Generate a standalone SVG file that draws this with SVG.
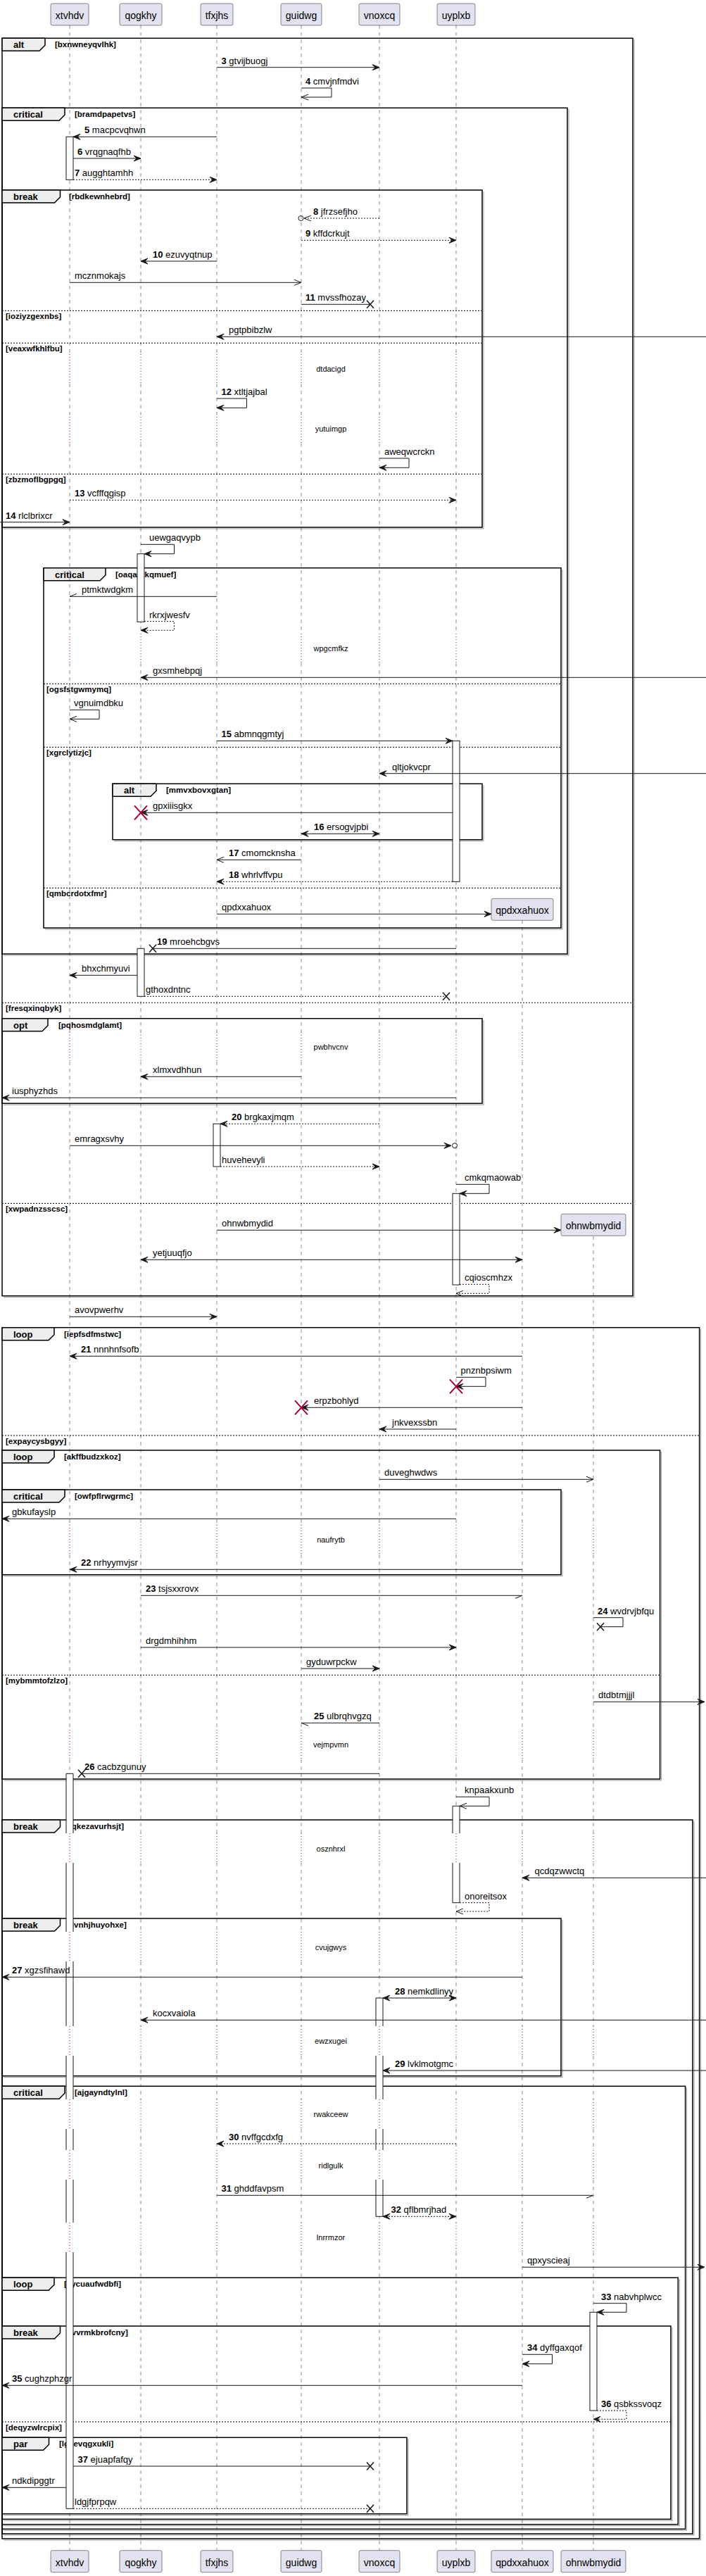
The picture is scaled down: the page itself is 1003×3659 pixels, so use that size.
<svg xmlns="http://www.w3.org/2000/svg" width="1003" height="3659" viewBox="0 0 1003 3659">
<style>
.pb{fill:#E2E2F0;stroke:#181818;stroke-width:0.5}
.pt{font-family:"Liberation Sans",Arial,sans-serif;font-size:14px;fill:#000;text-anchor:middle}
.ll{fill:none;stroke:#181818;stroke-width:0.5;stroke-dasharray:5,5}
.dl{fill:none;stroke:#A80036;stroke-width:1;stroke-dasharray:1,3}
.fr{fill:none;stroke:#000;stroke-width:1.5}
.fs{fill:none;stroke:#999;stroke-width:1}
.tab{fill:#EEEEEE;stroke:#000;stroke-width:1.5}
.tt{font-family:"Liberation Sans",Arial,sans-serif;font-size:13px;font-weight:bold;fill:#000}
.gl{font-family:"Liberation Sans",Arial,sans-serif;font-size:11.5px;font-weight:bold;fill:#000}
.sep{fill:none;stroke:#000;stroke-width:1;stroke-dasharray:2,2}
.ac{fill:#fff;stroke:#181818;stroke-width:1}
.acf{fill:#fff;stroke:none}
.acl{fill:none;stroke:#181818;stroke-width:1}
.m{fill:none;stroke:#181818;stroke-width:1}
.d{stroke-dasharray:2,2}
.ml{font-family:"Liberation Sans",Arial,sans-serif;font-size:13px;fill:#000}
.b{font-weight:bold}
.dt{font-family:"Liberation Sans",Arial,sans-serif;font-size:11px;fill:#000;text-anchor:middle}
.lx{fill:none;stroke:#181818;stroke-width:1.5}
.rx{fill:none;stroke:#A80036;stroke-width:2}
.ci{fill:none;stroke:#181818;stroke-width:1}
</style>
<defs>
<marker id="fa" markerUnits="userSpaceOnUse" markerWidth="12" markerHeight="10" refX="10" refY="4" orient="auto-start-reverse" overflow="visible"><path d="M0,0 L10,4 L0,8 L4,4 Z" fill="#181818" stroke="#181818" stroke-width="1"/></marker>
<marker id="oa" markerUnits="userSpaceOnUse" markerWidth="12" markerHeight="10" refX="10" refY="4" orient="auto-start-reverse" overflow="visible"><path d="M0,0 L10,4 L0,8" fill="none" stroke="#181818" stroke-width="1"/></marker>
<path id="lld" class="ll" d="M0,36V503M0,545V588M0,630V900M0,942V1466M0,1508V2166M0,2208V2457M0,2499V2604M0,2646V2744M0,2786V2878M0,2920V2982M0,3024V3054M0,3096V3157M0,3199V3622"/>
<path id="llt" class="dl" d="M0,503V545M0,588V630M0,900V942M0,1466V1508M0,2166V2208M0,2457V2499M0,2604V2646M0,2744V2786M0,2878V2920M0,2982V3024M0,3054V3096M0,3157V3199"/>
</defs>

<g id="frames">
<g id="f-alt1">
<path class="fs" d="M901,56.3V1842.7H5"/>
<rect class="fr" x="3" y="54.3" width="896" height="1786.4"/>
<path class="tab" d="M3,54.3H64V64.3L56,72.3H3Z"/>
<text class="tt" x="19" y="68.3">alt</text>
<text class="gl" x="78" y="67.3">[bxnwneyqvlhk]</text>
<line class="sep" x1="3" y1="1424.3" x2="899" y2="1424.3"/>
<text class="gl" x="8" y="1436.3">[fresqxinqbyk]</text>
<line class="sep" x1="3" y1="1709.3" x2="899" y2="1709.3"/>
<text class="gl" x="8" y="1721.3">[xwpadnzsscsc]</text>
</g>
<g id="f-crit1">
<path class="fs" d="M808,155.3V1357H5"/>
<rect class="fr" x="3" y="153.3" width="803" height="1201.7"/>
<path class="tab" d="M3,153.3H92V163.3L84,171.3H3Z"/>
<text class="tt" x="19" y="167.3">critical</text>
<text class="gl" x="106" y="166.3">[bramdpapetvs]</text>
</g>
<g id="f-break1">
<path class="fs" d="M687,272V751H5"/>
<rect class="fr" x="3" y="270" width="682" height="479"/>
<path class="tab" d="M3,270H85.5V280L77.5,288H3Z"/>
<text class="tt" x="19" y="284">break</text>
<text class="gl" x="98" y="283">[rbdkewnhebrd]</text>
<line class="sep" x1="3" y1="441.3" x2="685" y2="441.3"/>
<text class="gl" x="8" y="453.3">[ioziyzgexnbs]</text>
<line class="sep" x1="3" y1="487.3" x2="685" y2="487.3"/>
<text class="gl" x="8" y="499.3">[veaxwfkhlfbu]</text>
<line class="sep" x1="3" y1="673.3" x2="685" y2="673.3"/>
<text class="gl" x="8" y="685.3">[zbzmoflbgpgq]</text>
</g>
<g id="f-crit2">
<path class="fs" d="M799,808.7V1320H64"/>
<rect class="fr" x="62" y="806.7" width="735" height="511.3"/>
<path class="tab" d="M62,806.7H150V816.7L142,824.7H62Z"/>
<text class="tt" x="78" y="820.7">critical</text>
<text class="gl" x="164" y="819.7">[oaqautkqmuef]</text>
<line class="sep" x1="62" y1="971.3" x2="797" y2="971.3"/>
<text class="gl" x="66" y="983.3">[ogsfstgwmymq]</text>
<line class="sep" x1="62" y1="1061.3" x2="797" y2="1061.3"/>
<text class="gl" x="66" y="1073.3">[xgrclytizjc]</text>
<line class="sep" x1="62" y1="1261.3" x2="797" y2="1261.3"/>
<text class="gl" x="66" y="1273.3">[qmbcrdotxfmr]</text>
</g>
<g id="f-alt2">
<path class="fs" d="M687,1115.3V1194.7H162"/>
<rect class="fr" x="160" y="1113.3" width="525" height="79.4"/>
<path class="tab" d="M160,1113.3H222V1123.3L214,1131.3H160Z"/>
<text class="tt" x="176" y="1127.3">alt</text>
<text class="gl" x="236" y="1126.3">[mmvxbovxgtan]</text>
</g>
<g id="f-opt">
<path class="fs" d="M687,1448.7V1569.3H5"/>
<rect class="fr" x="3" y="1446.7" width="682" height="120.6"/>
<path class="tab" d="M3,1446.7H68V1456.7L60,1464.7H3Z"/>
<text class="tt" x="19" y="1460.7">opt</text>
<text class="gl" x="83" y="1459.7">[pqhosmdglamt]</text>
</g>
<g id="f-loop1">
<path class="fs" d="M995.6,1887.7V3608H5"/>
<rect class="fr" x="3" y="1885.7" width="990.6" height="1720.3"/>
<path class="tab" d="M3,1885.7H77V1895.7L69,1903.7H3Z"/>
<text class="tt" x="19" y="1899.7">loop</text>
<text class="gl" x="91" y="1898.7">[iepfsdfmstwc]</text>
<line class="sep" x1="3" y1="2039" x2="993.6" y2="2039"/>
<text class="gl" x="8" y="2051">[expaycysbgyy]</text>
</g>
<g id="f-loop2">
<path class="fs" d="M939.6,2062V2529H5"/>
<rect class="fr" x="3" y="2060" width="934.6" height="467"/>
<path class="tab" d="M3,2060H77V2070L69,2078H3Z"/>
<text class="tt" x="19" y="2074">loop</text>
<text class="gl" x="91" y="2073">[akffbudzxkoz]</text>
<line class="sep" x1="3" y1="2379.3" x2="937.6" y2="2379.3"/>
<text class="gl" x="8" y="2391.3">[mybmmtofzlzo]</text>
</g>
<g id="f-crit3">
<path class="fs" d="M799,2118V2238.7H5"/>
<rect class="fr" x="3" y="2116" width="794" height="120.7"/>
<path class="tab" d="M3,2116H92V2126L84,2134H3Z"/>
<text class="tt" x="19" y="2130">critical</text>
<text class="gl" x="106" y="2129">[owfpflrwgrmc]</text>
</g>
<g id="f-break2">
<path class="fs" d="M986,2587V3601H5"/>
<rect class="fr" x="3" y="2585" width="981" height="1014"/>
<path class="tab" d="M3,2585H85.5V2595L77.5,2603H3Z"/>
<text class="tt" x="19" y="2599">break</text>
<text class="gl" x="98" y="2598">[qkezavurhsjt]</text>
</g>
<g id="f-break3">
<path class="fs" d="M799,2727V2950.7H5"/>
<rect class="fr" x="3" y="2725" width="794" height="223.7"/>
<path class="tab" d="M3,2725H85.5V2735L77.5,2743H3Z"/>
<text class="tt" x="19" y="2739">break</text>
<text class="gl" x="98" y="2738">[jvnhjhuyohxe]</text>
</g>
<g id="f-crit4">
<path class="fs" d="M975.6,2965.3V3594.3H5"/>
<rect class="fr" x="3" y="2963.3" width="970.6" height="629"/>
<path class="tab" d="M3,2963.3H92V2973.3L84,2981.3H3Z"/>
<text class="tt" x="19" y="2977.3">critical</text>
<text class="gl" x="106" y="2976.3">[ajgayndtylnl]</text>
</g>
<g id="f-loop3">
<path class="fs" d="M965.3,3237.3V3587.7H5"/>
<rect class="fr" x="3" y="3235.3" width="960.3" height="350.4"/>
<path class="tab" d="M3,3235.3H77V3245.3L69,3253.3H3Z"/>
<text class="tt" x="19" y="3249.3">loop</text>
<text class="gl" x="91" y="3248.3">[eycuaufwdbfi]</text>
</g>
<g id="f-break4">
<path class="fs" d="M955,3306V3580.3H5"/>
<rect class="fr" x="3" y="3304" width="950" height="274.3"/>
<path class="tab" d="M3,3304H85.5V3314L77.5,3322H3Z"/>
<text class="tt" x="19" y="3318">break</text>
<text class="gl" x="98" y="3317">[vvrmkbrofcny]</text>
<line class="sep" x1="3" y1="3440" x2="953" y2="3440"/>
<text class="gl" x="8" y="3452">[deqyzwlrcpix]</text>
</g>
<g id="f-par">
<path class="fs" d="M580,3464.3V3572.7H5"/>
<rect class="fr" x="3" y="3462.3" width="575" height="108.4"/>
<path class="tab" d="M3,3462.3H69.5V3472.3L61.5,3480.3H3Z"/>
<text class="tt" x="19" y="3476.3">par</text>
<text class="gl" x="84" y="3475.3">[lgaevqgxukli]</text>
</g>
</g>

<g id="lifelines">
<use href="#lld" x="99"/><use href="#llt" x="99"/>
<use href="#lld" x="200"/><use href="#llt" x="200"/>
<use href="#lld" x="308"/><use href="#llt" x="308"/>
<use href="#lld" x="428"/><use href="#llt" x="428"/>
<use href="#lld" x="539"/><use href="#llt" x="539"/>
<use href="#lld" x="648"/><use href="#llt" x="648"/>
<path class="ll" d="M742,1307V1466M742,1508V2166M742,2208V2457M742,2499V2604M742,2646V2744M742,2786V2878M742,2920V2982M742,3024V3054M742,3096V3157M742,3199V3622"/>
<path class="dl" d="M742,1466V1508M742,2166V2208M742,2457V2499M742,2604V2646M742,2744V2786M742,2878V2920M742,2982V3024M742,3054V3096M742,3157V3199"/>
<path class="ll" d="M843,1756V2166M843,2208V2457M843,2499V2604M843,2646V2744M843,2786V2878M843,2920V2982M843,3024V3054M843,3096V3157M843,3199V3622"/>
<path class="dl" d="M843,2166V2208M843,2457V2499M843,2604V2646M843,2744V2786M843,2878V2920M843,2982V3024M843,3054V3096M843,3157V3199"/>
</g>

<g id="activations">
<rect class="ac" x="94" y="194.3" width="10" height="61"/>
<rect class="ac" x="195" y="786.7" width="10" height="96.6"/>
<rect class="ac" x="643" y="1052.3" width="10" height="200"/>
<rect class="ac" x="195" y="1347.3" width="10" height="68"/>
<rect class="ac" x="303" y="1596.3" width="10" height="60.7"/>
<rect class="ac" x="643" y="1695.3" width="10" height="129.7"/>
<g id="act-xtvhdv-2">
<rect class="acf" x="94" y="2519.3" width="10" height="84.7"/><rect class="acf" x="94" y="2646" width="10" height="98"/><rect class="acf" x="94" y="2786" width="10" height="92"/><rect class="acf" x="94" y="2920" width="10" height="62"/><rect class="acf" x="94" y="3024" width="10" height="30"/><rect class="acf" x="94" y="3096" width="10" height="61"/><rect class="acf" x="94" y="3199" width="10" height="364.3"/>
<path class="acl" d="M94,2519.3H104M94,3563.3H104M94,2519.3V2604M104,2519.3V2604M94,2646V2744M104,2646V2744M94,2786V2878M104,2786V2878M94,2920V2982M104,2920V2982M94,3024V3054M104,3024V3054M94,3096V3157M104,3096V3157M94,3199V3563.3M104,3199V3563.3"/>
</g>
<g id="act-uyplxb-3">
<rect class="acf" x="643" y="2565.3" width="10" height="38.7"/><rect class="acf" x="643" y="2646" width="10" height="56.7"/>
<path class="acl" d="M643,2565.3H653M643,2702.7H653M643,2565.3V2604M653,2565.3V2604M643,2646V2702.7M653,2646V2702.7"/>
</g>
<g id="act-vnoxcq">
<rect class="acf" x="534" y="2838" width="10" height="40"/><rect class="acf" x="534" y="2920" width="10" height="62"/><rect class="acf" x="534" y="3024" width="10" height="30"/><rect class="acf" x="534" y="3096" width="10" height="52.3"/>
<path class="acl" d="M534,2838H544M534,3148.3H544M534,2838V2878M544,2838V2878M534,2920V2982M544,2920V2982M534,3024V3054M544,3024V3054M534,3096V3148.3M544,3096V3148.3"/>
</g>
<rect class="ac" x="838" y="3284.3" width="10" height="139.7"/>
</g>

<g id="participants">
<g id="p-xtvhdv"><rect class="pb" x="72" y="5" width="54" height="31" rx="2.5"/><text class="pt" x="99" y="27">xtvhdv</text><rect class="pb" x="72" y="3622.7" width="54" height="31" rx="2.5"/><text class="pt" x="99" y="3644.7">xtvhdv</text></g>
<g id="p-qogkhy"><rect class="pb" x="170" y="5" width="60" height="31" rx="2.5"/><text class="pt" x="200" y="27">qogkhy</text><rect class="pb" x="170" y="3622.7" width="60" height="31" rx="2.5"/><text class="pt" x="200" y="3644.7">qogkhy</text></g>
<g id="p-tfxjhs"><rect class="pb" x="285" y="5" width="46" height="31" rx="2.5"/><text class="pt" x="308" y="27">tfxjhs</text><rect class="pb" x="285" y="3622.7" width="46" height="31" rx="2.5"/><text class="pt" x="308" y="3644.7">tfxjhs</text></g>
<g id="p-guidwg"><rect class="pb" x="399" y="5" width="58" height="31" rx="2.5"/><text class="pt" x="428" y="27">guidwg</text><rect class="pb" x="399" y="3622.7" width="58" height="31" rx="2.5"/><text class="pt" x="428" y="3644.7">guidwg</text></g>
<g id="p-vnoxcq"><rect class="pb" x="510" y="5" width="58" height="31" rx="2.5"/><text class="pt" x="539" y="27">vnoxcq</text><rect class="pb" x="510" y="3622.7" width="58" height="31" rx="2.5"/><text class="pt" x="539" y="3644.7">vnoxcq</text></g>
<g id="p-uyplxb"><rect class="pb" x="621" y="5" width="54" height="31" rx="2.5"/><text class="pt" x="648" y="27">uyplxb</text><rect class="pb" x="621" y="3622.7" width="54" height="31" rx="2.5"/><text class="pt" x="648" y="3644.7">uyplxb</text></g>
<g id="p-qpdxxahuox"><rect class="pb" x="698" y="1276.3" width="88" height="31" rx="2.5"/><text class="pt" x="742" y="1298.3">qpdxxahuox</text><rect class="pb" x="698" y="3622.7" width="88" height="31" rx="2.5"/><text class="pt" x="742" y="3644.7">qpdxxahuox</text></g>
<g id="p-ohnwbmydid"><rect class="pb" x="797" y="1724.3" width="92" height="31" rx="2.5"/><text class="pt" x="843" y="1746.3">ohnwbmydid</text><rect class="pb" x="797" y="3622.7" width="92" height="31" rx="2.5"/><text class="pt" x="843" y="3644.7">ohnwbmydid</text></g>
</g>

<g id="delays">
<text class="dt" x="470" y="528">dtdacigd</text>
<text class="dt" x="470" y="613">yutuimgp</text>
<text class="dt" x="470" y="925">wpgcmfkz</text>
<text class="dt" x="470" y="1491">pwbhvcnv</text>
<text class="dt" x="470" y="2191">naufrytb</text>
<text class="dt" x="470" y="2482">vejmpvmn</text>
<text class="dt" x="470" y="2630">osznhrxl</text>
<text class="dt" x="470" y="2770">cvujgwys</text>
<text class="dt" x="470" y="2903">ewzxugei</text>
<text class="dt" x="470" y="3007">rwakceew</text>
<text class="dt" x="470" y="3080">ridlgulk</text>
<text class="dt" x="470" y="3182">lnrrmzor</text>
</g>

<g id="connectors">
<path class="m" d="M308,95.7H539" marker-end="url(#fa)"/><text class="ml" x="314.5" y="90.7"><tspan class="b">3</tspan> gtvijbuogj</text>
<path class="m" d="M428,125H471V138H428" marker-end="url(#oa)"/><text class="ml" x="434" y="120"><tspan class="b">4</tspan> cmvjnfmdvi</text>
<path class="m" d="M308,194.3H104" marker-end="url(#fa)"/><text class="ml" x="120" y="189.3"><tspan class="b">5</tspan> macpcvqhwn</text>
<path class="m" d="M104,225H200" marker-end="url(#fa)"/><text class="ml" x="110" y="220"><tspan class="b">6</tspan> vrqgnaqfhb</text>
<path class="m d" d="M104,255.3H308" marker-end="url(#fa)"/><text class="ml" x="106" y="250.3"><tspan class="b">7</tspan> augghtamhh</text>
<path class="m d" d="M539,310H432" marker-end="url(#oa)"/><circle class="ci" cx="427.5" cy="310" r="3.5"/><text class="ml" x="445" y="305"><tspan class="b">8</tspan> jfrzsefjho</text>
<path class="m d" d="M428,341.3H648" marker-end="url(#fa)"/><text class="ml" x="434" y="336.3"><tspan class="b">9</tspan> kffdcrkujt</text>
<path class="m" d="M308,371H200" marker-end="url(#fa)"/><text class="ml" x="217" y="366"><tspan class="b">10</tspan> ezuvyqtnup</text>
<path class="m" d="M99,401.3H428" marker-end="url(#oa)"/><text class="ml" x="106" y="396.3">mcznmokajs</text>
<path class="m" d="M428,432.3H526"/><path class="lx" d="M521,426.8L531,437.8M531,426.8L521,437.8"/><text class="ml" x="434" y="427.3"><tspan class="b">11</tspan> mvssfhozay</text>
<path class="m" d="M1003,478.3H308" marker-end="url(#fa)"/><text class="ml" x="325" y="473.3">pgtpbibzlw</text>
<path class="m" d="M308,566H350.5V579.3H308" marker-end="url(#fa)"/><text class="ml" x="314.5" y="561"><tspan class="b">12</tspan> xtltjajbal</text>
<path class="m" d="M539,651H581V664.3H539" marker-end="url(#fa)"/><text class="ml" x="546" y="646">aweqwcrckn</text>
<path class="m d" d="M99,710.3H648" marker-end="url(#fa)"/><text class="ml" x="106" y="705.3"><tspan class="b">13</tspan> vcfffqgisp</text>
<path class="m" d="M0,741.7H99" marker-end="url(#fa)"/><text class="ml" x="8" y="736.7"><tspan class="b">14</tspan> rlclbrixcr</text>
<path class="m" d="M200,773.3H247.5V786.7H205" marker-end="url(#fa)"/><text class="ml" x="212" y="768.3">uewgaqvypb</text>
<path class="m" d="M308,847.3H99M99,847.3L109,843.3"/><text class="ml" x="116" y="842.3">ptmktwdgkm</text>
<path class="m d" d="M205,882.7H247.5V895.3H200" marker-end="url(#fa)"/><text class="ml" x="212" y="877.7">rkrxjwesfv</text>
<path class="m" d="M1003,962.3H200" marker-end="url(#fa)"/><text class="ml" x="217" y="957.3">gxsmhebpqj</text>
<path class="m" d="M99,1008.3H141V1021.3H99" marker-end="url(#oa)"/><text class="ml" x="105" y="1003.3">vgnuimdbku</text>
<path class="m" d="M308,1052.3H643" marker-end="url(#fa)"/><text class="ml" x="314.5" y="1047.3"><tspan class="b">15</tspan> abmnqgmtyj</text>
<path class="m" d="M1003,1098.7H539" marker-end="url(#fa)"/><text class="ml" x="557" y="1093.7">qltjokvcpr</text>
<path class="m" d="M643,1154.3H200" marker-end="url(#fa)"/><path class="rx" d="M191,1144.3L209,1164.3M209,1144.3L191,1164.3"/><text class="ml" x="217" y="1149.3">gpxiiisgkx</text>
<path class="m" d="M428,1184.3H539" marker-start="url(#fa)" marker-end="url(#fa)"/><text class="ml" x="446" y="1179.3"><tspan class="b">16</tspan> ersogvjpbi</text>
<path class="m" d="M428,1221.3H308" marker-end="url(#oa)"/><text class="ml" x="325" y="1216.3"><tspan class="b">17</tspan> cmomcknsha</text>
<path class="m d" d="M643,1252.3H308" marker-end="url(#fa)"/><text class="ml" x="325" y="1247.3"><tspan class="b">18</tspan> whrlvffvpu</text>
<path class="m" d="M308,1298.3H698" marker-end="url(#fa)"/><text class="ml" x="315" y="1293.3">qpdxxahuox</text>
<path class="m" d="M648,1347.3H217"/><path class="lx" d="M212,1341.8L222,1352.8M222,1341.8L212,1352.8"/><text class="ml" x="223" y="1342.3"><tspan class="b">19</tspan> mroehcbgvs</text>
<path class="m" d="M195,1385.3H99" marker-end="url(#fa)"/><text class="ml" x="116" y="1380.3">bhxchmyuvi</text>
<path class="m d" d="M205,1415.3H634"/><path class="lx" d="M629,1409.8L639,1420.8M639,1409.8L629,1420.8"/><text class="ml" x="207" y="1410.3">gthoxdntnc</text>
<path class="m" d="M428,1529.3H200" marker-end="url(#fa)"/><text class="ml" x="217" y="1524.3">xlmxvdhhun</text>
<path class="m" d="M648,1559.3H3" marker-end="url(#fa)"/><text class="ml" x="17" y="1554.3">iusphyzhds</text>
<path class="m d" d="M539,1596.3H313" marker-end="url(#fa)"/><text class="ml" x="329" y="1591.3"><tspan class="b">20</tspan> brgkaxjmqm</text>
<path class="m" d="M99,1627.3H641" marker-end="url(#fa)"/><circle class="ci" cx="646" cy="1627.3" r="3.5"/><text class="ml" x="106" y="1622.3">emragxsvhy</text>
<path class="m d" d="M313,1657H539" marker-end="url(#fa)"/><text class="ml" x="315" y="1652">huvehevyli</text>
<path class="m" d="M648,1682.3H695V1695.3H653" marker-end="url(#fa)"/><text class="ml" x="660" y="1677.3">cmkqmaowab</text>
<path class="m" d="M308,1747.3H797" marker-end="url(#fa)"/><text class="ml" x="315" y="1742.3">ohnwbmydid</text>
<path class="m" d="M200,1789.3H742" marker-start="url(#fa)" marker-end="url(#fa)"/><text class="ml" x="217" y="1784.3">yetjuuqfjo</text>
<path class="m d" d="M653,1824.3H695V1837.3H648" marker-end="url(#oa)"/><text class="ml" x="660" y="1819.3">cqioscmhzx</text>
<path class="m" d="M99,1870.3H308" marker-end="url(#fa)"/><text class="ml" x="106" y="1865.3">avovpwerhv</text>
<path class="m" d="M742,1926.3H99" marker-end="url(#fa)"/><text class="ml" x="115" y="1921.3"><tspan class="b">21</tspan> nnnhnfsofb</text>
<path class="m" d="M648,1956.3H690V1969.3H648" marker-end="url(#fa)"/><path class="rx" d="M639,1959.3L657,1979.3M657,1959.3L639,1979.3"/><text class="ml" x="654.5" y="1951.3">pnznbpsiwm</text>
<path class="m" d="M742,1999.3H428" marker-end="url(#fa)"/><path class="rx" d="M419,1989.3L437,2009.3M437,1989.3L419,2009.3"/><text class="ml" x="446" y="1994.3">erpzbohlyd</text>
<path class="m" d="M648,2030H539" marker-end="url(#fa)"/><text class="ml" x="557" y="2025">jnkvexssbn</text>
<path class="m" d="M539,2101.3H843" marker-end="url(#oa)"/><text class="ml" x="546" y="2096.3">duveghwdws</text>
<path class="m" d="M648,2157.3H3" marker-end="url(#fa)"/><text class="ml" x="17" y="2152.3">gbkufayslp</text>
<path class="m" d="M742,2229.3H99" marker-end="url(#fa)"/><text class="ml" x="115" y="2224.3"><tspan class="b">22</tspan> nrhyymvjsr</text>
<path class="m" d="M200,2266.3H742M742,2266.3L732,2270.3"/><text class="ml" x="207" y="2261.3"><tspan class="b">23</tspan> tsjsxxrovx</text>
<path class="m" d="M843,2297.7H885V2310.7H853"/><path class="lx" d="M848,2305.2L858,2316.2M858,2305.2L848,2316.2"/><text class="ml" x="849" y="2292.7"><tspan class="b">24</tspan> wvdrvjbfqu</text>
<path class="m" d="M200,2340H648" marker-end="url(#fa)"/><text class="ml" x="207" y="2335">drgdmhihhm</text>
<path class="m" d="M428,2370H539" marker-end="url(#fa)"/><text class="ml" x="435" y="2365">gyduwrpckw</text>
<path class="m" d="M843,2417.3H1001" marker-end="url(#fa)"/><text class="ml" x="850" y="2412.3">dtdbtmjjjl</text>
<path class="m" d="M539,2447.3H428M428,2447.3L438,2451.3"/><text class="ml" x="446" y="2442.3"><tspan class="b">25</tspan> ulbrqhvgzq</text>
<path class="m" d="M539,2519.3H116"/><path class="lx" d="M111,2513.8L121,2524.8M121,2513.8L111,2524.8"/><text class="ml" x="120" y="2514.3"><tspan class="b">26</tspan> cacbzgunuy</text>
<path class="m" d="M648,2552.3H695V2565.3H653" marker-end="url(#oa)"/><text class="ml" x="660" y="2547.3">knpaakxunb</text>
<path class="m" d="M1003,2667.3H742" marker-end="url(#fa)"/><text class="ml" x="759.5" y="2662.3">qcdqzwwctq</text>
<path class="m d" d="M653,2702.7H695V2715H648" marker-end="url(#oa)"/><text class="ml" x="660" y="2697.7">onoreitsox</text>
<path class="m" d="M742,2808.3H3" marker-end="url(#fa)"/><text class="ml" x="17" y="2803.3"><tspan class="b">27</tspan> xgzsfihawd</text>
<path class="m" d="M544,2838H648" marker-start="url(#fa)" marker-end="url(#fa)"/><text class="ml" x="561" y="2833"><tspan class="b">28</tspan> nemkdlinyy</text>
<path class="m" d="M1003,2869.3H200" marker-end="url(#fa)"/><text class="ml" x="217" y="2864.3">kocxvaiola</text>
<path class="m" d="M1003,2941H544" marker-end="url(#fa)"/><text class="ml" x="561" y="2936"><tspan class="b">29</tspan> lvklmotgmc</text>
<path class="m d" d="M648,3045H308" marker-end="url(#fa)"/><text class="ml" x="325" y="3040"><tspan class="b">30</tspan> nvffgcdxfg</text>
<path class="m" d="M308,3118.3H843M843,3118.3L833,3122.3"/><text class="ml" x="314.5" y="3113.3"><tspan class="b">31</tspan> ghddfavpsm</text>
<path class="m d" d="M544,3148.3H648" marker-start="url(#fa)" marker-end="url(#fa)"/><text class="ml" x="555.5" y="3143.3"><tspan class="b">32</tspan> qflbmrjhad</text>
<path class="m" d="M742,3220.3H1001" marker-end="url(#fa)"/><text class="ml" x="749" y="3215.3">qpxyscieaj</text>
<path class="m" d="M843,3271.7H890V3284.3H848" marker-end="url(#fa)"/><text class="ml" x="854" y="3266.7"><tspan class="b">33</tspan> nabvhplwcc</text>
<path class="m" d="M742,3344.3H784.5V3357.7H742" marker-end="url(#fa)"/><text class="ml" x="749" y="3339.3"><tspan class="b">34</tspan> dyffgaxqof</text>
<path class="m" d="M742,3388.3H3" marker-end="url(#fa)"/><text class="ml" x="17" y="3383.3"><tspan class="b">35</tspan> cughzphzgr</text>
<path class="m d" d="M848,3424H890V3436.3H843" marker-end="url(#fa)"/><text class="ml" x="854" y="3419"><tspan class="b">36</tspan> qsbkssvoqz</text>
<path class="m" d="M104,3503H526"/><path class="lx" d="M521,3497.5L531,3508.5M531,3497.5L521,3508.5"/><text class="ml" x="110.5" y="3498"><tspan class="b">37</tspan> ejuapfafqy</text>
<path class="m" d="M94,3533.3H3" marker-end="url(#fa)"/><text class="ml" x="17" y="3528.3">ndkdipggtr</text>
<path class="m d" d="M104,3563.3H526"/><path class="lx" d="M521,3557.8L531,3568.8M531,3557.8L521,3568.8"/><text class="ml" x="106" y="3558.3">ldgjfprpqw</text>
</g>
</svg>
